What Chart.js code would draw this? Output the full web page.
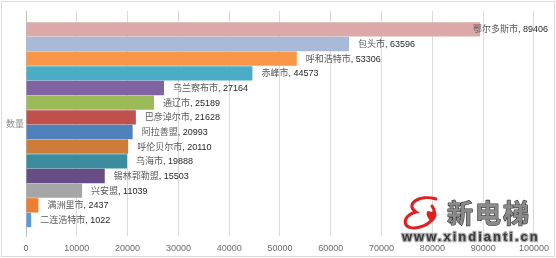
<!DOCTYPE html>
<html>
<head>
<meta charset="utf-8">
<script src="https://cdn.jsdelivr.net/npm/chart.js@4"></script>
<style>
  html, body { margin: 0; padding: 0; background: #fff; }
  #wrap { width: 556px; height: 258px; }
</style>
</head>
<body>
<div id="wrap"><canvas id="chart" width="556" height="258"></canvas></div>
<script>
const cities = ['鄂尔多斯市', '包头市', '呼和浩特市', '赤峰市', '乌兰察布市', '通辽市', '巴彦淖尔市',
    '阿拉善盟', '呼伦贝尔市', '乌海市', '锡林郭勒盟', '兴安盟', '满洲里市', '二连浩特市'];
const counts = [89406, 63596, 53306, 44573, 27164, 25189, 21628, 20993, 20110, 19888, 15503, 11039, 2437, 1022];
const barColors = ['#dba9a8', '#a9b9d8', '#f79646', '#4bacc6', '#8064a2', '#9bbb59', '#c0504d',
    '#4f81bd', '#cc7b38', '#3a8c9e', '#664d85', '#a5a5a5', '#ed7d31', '#5b9bd5'];
const xTicks = [0, 10000, 20000, 30000, 40000, 50000, 60000, 70000, 80000, 90000, 100000];
const axisTitle = '数量';

const cjk = '"Liberation Sans", "Noto Sans CJK SC", sans-serif';

// labels "城市, 数值" at the end of each bar
const barLabels = {
    id: 'barLabels',
    afterDatasetsDraw(chart) {
        const ctx = chart.ctx;
        const meta = chart.getDatasetMeta(0);
        ctx.save();
        ctx.font = '9px ' + cjk;
        ctx.textBaseline = 'middle';
        meta.data.forEach((bar, i) => {
            const name = cities[i];
            const rest = ', ' + counts[i];
            const w = ctx.measureText(name).width + ctx.measureText(rest).width;
            let x = bar.x + 9;
            if (x + w > 548) x = 548 - w;
            ctx.fillStyle = '#595959';
            ctx.fillText(name, x, bar.y + 0.5);
            ctx.fillStyle = '#262626';
            ctx.fillText(rest, x + ctx.measureText(name).width, bar.y + 0.5);
        });
        ctx.restore();
    }
};

// frame, axis title and watermark
const extras = {
    id: 'extras',
    beforeDraw(chart) {
        const ctx = chart.ctx;
        ctx.save();
        ctx.fillStyle = '#fff';
        ctx.fillRect(0, 0, chart.width, chart.height);
        ctx.strokeStyle = '#d9d9d9';
        ctx.lineWidth = 1;
        ctx.strokeRect(1.5, 1.5, 553, 255);
        ctx.font = '9px ' + cjk;
        ctx.fillStyle = '#8c8c8c';
        ctx.textBaseline = 'middle';
        ctx.fillText(axisTitle, 6, 125);
        ctx.restore();
    },
    afterDraw(chart) {
        const ctx = chart.ctx;
        ctx.save();
        // logo swirl
        ctx.lineCap = 'round';
        ctx.strokeStyle = '#e02020';
        ctx.lineWidth = 3;
        ctx.beginPath();
        ctx.moveTo(436, 199);
        ctx.bezierCurveTo(420, 194, 404, 204, 416, 212);
        ctx.bezierCurveTo(400, 216, 402, 232, 420, 227);
        ctx.bezierCurveTo(432, 224, 438, 214, 432, 206);
        ctx.stroke();
        ctx.fillStyle = '#e02020';
        ctx.beginPath();
        ctx.moveTo(432, 222);
        ctx.bezierCurveTo(424, 216, 426, 208, 431, 212);
        ctx.bezierCurveTo(436, 208, 440, 216, 432, 222);
        ctx.fill();
        // brand text
        ctx.lineJoin = 'round';
        ctx.textBaseline = 'alphabetic';
        ctx.font = 'bold 26px "Noto Sans CJK SC", sans-serif';
        ctx.letterSpacing = '2px';
        ctx.strokeStyle = 'rgba(255,255,255,0.9)';
        ctx.lineWidth = 4;
        ctx.strokeText('新电梯', 447, 223);
        ctx.strokeStyle = '#333';
        ctx.lineWidth = 1.2;
        ctx.strokeText('新电梯', 447, 223);
        ctx.fillStyle = '#8a8a8a';
        ctx.fillText('新电梯', 447, 223);
        ctx.font = 'bold 13px "Liberation Sans", sans-serif';
        ctx.letterSpacing = '2px';
        ctx.strokeStyle = '#aaa';
        ctx.lineWidth = 2.5;
        ctx.strokeText('www.xindianti.cn', 402, 241);
        ctx.fillStyle = '#3a3a3a';
        ctx.fillText('www.xindianti.cn', 402, 241);
        ctx.restore();
    }
};

new Chart(document.getElementById('chart'), {
    type: 'bar',
    data: {
        datasets: [{
            data: counts.map((v, i) => ({ x: v, y: i })),
            backgroundColor: barColors,
            borderWidth: 0,
            categoryPercentage: 1,
            barPercentage: 0.98
        }]
    },
    options: {
        indexAxis: 'y',
        responsive: false,
        animation: false,
        devicePixelRatio: 1,
        layout: { padding: { left: 26, right: 21, top: 11, bottom: 4 } },
        plugins: { legend: { display: false }, tooltip: { enabled: false } },
        scales: {
            x: {
                type: 'linear',
                min: 0,
                max: 100000,
                afterBuildTicks: s => { s.ticks = xTicks.map(v => ({ value: v })); },
                afterFit: s => { s.height = 18; },
                grid: { color: '#d9d9d9', drawTicks: false },
                border: { display: false },
                ticks: {
                    padding: 7,
                    color: '#6b6b6b',
                    maxRotation: 0,
                    autoSkip: false,
                    font: { family: 'Liberation Sans', size: 9 },
                    callback: v => String(v)
                }
            },
            y: {
                type: 'linear',
                reverse: true,
                offset: false,
                min: -1.25,
                max: 14.09,
                afterFit: s => { s.width = 0; },
                ticks: { display: false },
                grid: { display: false, offset: false },
                border: { display: true, color: '#bfbfbf' }
            }
        }
    },
    plugins: [extras, barLabels]
});
</script>
</body>
</html>
